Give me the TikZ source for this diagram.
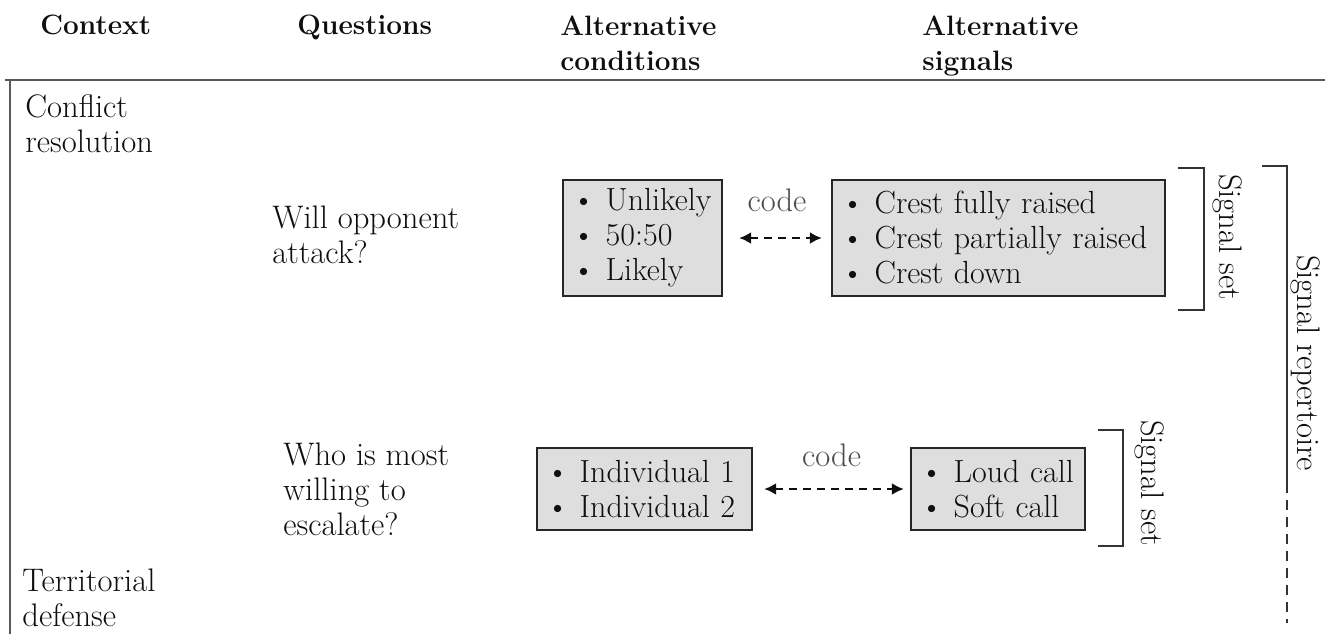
\documentclass[tikz,border=0pt]{standalone}
\usetikzlibrary{arrows.meta}
\definecolor{txt}{gray}{0.06}
\definecolor{boxfill}{gray}{0.87}
\begin{document}
\begin{tikzpicture}[x=0.5pt,y=-0.5pt,
  lbl/.style={font=\fontsize{16.3}{17.5}\selectfont, text=txt, inner sep=0pt, align=left, anchor=north west},
  hdr/.style={font=\fontsize{14}{17.5}\selectfont\bfseries, text=txt, inner sep=0pt, align=left, anchor=north west},
  optbox/.style={draw=black!85, line width=1.1pt, fill=boxfill, font=\fontsize{16}{17.5}\selectfont, text=txt, align=left, inner xsep=4.5pt, inner ysep=0pt},
  codearrow/.style={dash pattern=on 4pt off 3pt, line width=1.3pt, draw=txt, {Latex[length=6pt,width=6pt]}-{Latex[length=6pt,width=6pt]}},
  codelbl/.style={font=\fontsize{16.3}{17.5}\selectfont, text=black!70, inner sep=0pt},
  frameline/.style={draw=black!65, line width=1.2pt},
  brk/.style={draw=black!80, line width=0.8pt},
  vlbl/.style={font=\fontsize{16.3}{17.5}\selectfont, text=txt, inner sep=0pt, rotate=-90},
]
\useasboundingbox (0,0) rectangle (1325,634);

% headers
\node[hdr] (hctx) at (40,15) {Context};
\node[hdr] (hq) at (297,15) {Questions};
\node[hdr] (hcond) at (560,15) {Alternative\\conditions};
\node[hdr] (hsig) at (922,15) {Alternative\\signals};

% frame
\draw[frameline] (5,80) -- (1325,80);
\draw[frameline] (10,80) -- (10,634);

% context labels
\node[lbl] (conf) at (25,94) {Conflict\\resolution};
\node[lbl] (terr) at (22,568) {Territorial\\defense};

% questions
\node[lbl] (q1) at (272,205) {Will opponent\\attack?};
\node[lbl] (q2) at (283,442) {Who is most\\willing to\\escalate?};

% boxes
\node[optbox, text width=70.5pt, minimum height=58pt] (c1) at (642.5,238)
  {\textbullet\ Unlikely\\\textbullet\ 50:50\\\textbullet\ Likely};
\node[optbox, text width=157.5pt, minimum height=58pt] (s1) at (998.5,238)
  {\textbullet\ Crest fully raised\\\textbullet\ Crest partially raised\\\textbullet\ Crest down};
\node[optbox, text width=98.5pt, minimum height=41pt] (c2) at (644.5,489)
  {\textbullet\ Individual 1\\\textbullet\ Individual 2};
\node[optbox, text width=78pt, minimum height=41pt] (s2) at (998,489)
  {\textbullet\ Loud call\\\textbullet\ Soft call};

% code arrows
\draw[codearrow, shorten <=8pt, shorten >=4.5pt] (c1) -- node[codelbl, above=12.5pt] (code1) {code} (s1);
\draw[codearrow, shorten <=5.5pt, shorten >=3pt] (c2) -- node[codelbl, above=10.5pt] (code2) {code} (s2);

% brackets
\draw[brk] (1178,168) -- (1204,168) -- (1204,310) -- (1178,310);
\node[vlbl] (ss1) at (1228,237) {Signal set};
\draw[brk] (1098,430) -- (1123,430) -- (1123,546) -- (1098,546);
\node[vlbl] (ss2) at (1150,483) {Signal set};
\draw[brk] (1262,166) -- (1287,166) -- (1287,483);
\draw[brk, dash pattern=on 5pt off 3.5pt] (1287,483) -- (1287,623);
\node[vlbl] (rep) at (1306,363) {Signal repertoire};
\end{tikzpicture}
\end{document}
